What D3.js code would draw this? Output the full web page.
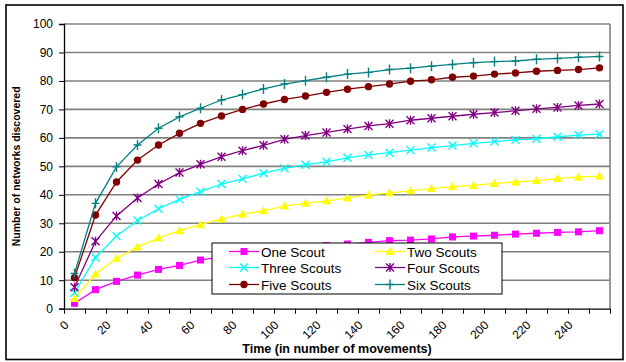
<!DOCTYPE html>
<html><head><meta charset="utf-8">
<script src="https://cdn.jsdelivr.net/npm/d3@7"></script>
<style>body{margin:0;background:#fff}svg{display:block}</style>
</head><body>
<svg id="c" width="626" height="362"></svg>
<script>
const times = [5,15,25,35,45,55,65,75,85,95,105,115,125,135,145,155,165,175,185,195,205,215,225,235,245,255];
const oneScout   = [1.9,6.7,9.6,11.8,13.8,15.2,17.1,18.3,19.3,20.2,21.0,21.7,22.2,22.7,23.3,23.9,24.1,24.5,25.2,25.5,25.8,26.2,26.5,26.8,27.0,27.4];
const twoScouts  = [3.6,12.2,17.6,21.7,24.8,27.4,29.5,31.5,33.2,34.4,36.1,37.0,37.9,38.9,39.9,40.7,41.4,42.2,42.9,43.3,44.0,44.5,45.0,45.7,46.3,46.6];
const threeScouts= [5.6,18.0,25.5,31.0,35.1,38.4,41.1,43.8,45.6,47.6,49.3,50.6,51.6,53.0,54.0,54.8,55.7,56.6,57.3,58.1,58.7,59.3,59.7,60.4,61.0,61.3];
const fourScouts = [7.5,23.7,32.6,38.9,43.8,47.8,50.7,53.4,55.5,57.4,59.5,60.8,61.9,63.1,64.2,65.0,66.2,66.9,67.6,68.3,68.9,69.5,70.2,70.7,71.4,71.9];
const fiveScouts = [10.9,32.9,44.5,52.2,57.5,61.6,65.1,67.7,70.0,71.9,73.5,74.7,76.0,77.1,78.0,78.9,79.9,80.4,81.3,81.7,82.4,82.8,83.4,83.7,84.0,84.6];
const sixScouts  = [12.4,37.0,49.8,57.5,63.4,67.4,70.4,73.3,75.2,77.2,78.9,80.1,81.3,82.4,83.0,84.0,84.5,85.2,85.8,86.4,86.8,87.0,87.6,87.9,88.3,88.6];
const seriesNames = ["One Scout","Two Scouts","Three Scouts","Four Scouts","Five Scouts","Six Scouts"];
const yTicks = [0,10,20,30,40,50,60,70,80,90,100];
const xTicks = d3.range(0,261,10);
const xLabels = [0,20,40,60,80,100,120,140,160,180,200,220,240];
const yTitle = "Number of networks discovered";
const xTitle = "Time (in number of movements)";

const allValues = [oneScout,twoScouts,threeScouts,fourScouts,fiveScouts,sixScouts];
const colors = ["#FF00FF","#FFFF00","#00FFFF","#800080","#800000","#008080"];
const markers = ["square","triangle","x","star","circle","plus"];
const FONT = "Arial, 'Liberation Sans', sans-serif";

const svg = d3.select("#c");
const L=64,R=610,T=24,B=308.7;
const x = d3.scaleLinear().domain([0,260]).range([L,R]);
const y = d3.scaleLinear().domain([0,100]).range([B,T]);

// outer border
svg.append("rect").attr("x",6).attr("y",5).attr("width",617).attr("height",354.5)
  .attr("fill","#fff").attr("stroke","#000").attr("stroke-width",1.6);

// gridlines
svg.append("g").selectAll("line").data(yTicks.filter(d=>d>0)).join("line")
  .attr("x1",L).attr("x2",R).attr("y1",d=>y(d)).attr("y2",d=>y(d))
  .attr("stroke","#808080").attr("stroke-width",1.6);
svg.append("line").attr("x1",R).attr("x2",R).attr("y1",T).attr("y2",B)
  .attr("stroke","#808080").attr("stroke-width",1.6);

// y axis
const yAxis = d3.axisLeft(y).tickValues(yTicks).tickSize(5).tickPadding(6);
const gy = svg.append("g").attr("transform",`translate(${L},0)`).call(yAxis);
gy.select(".domain").attr("stroke","#000").attr("stroke-width",1.3);
gy.selectAll(".tick line").attr("stroke","#000");
gy.selectAll("text").attr("font-family",FONT).attr("font-size",12).attr("fill","#000");

// x axis
const xAxis = d3.axisBottom(x).tickValues(xTicks).tickSize(5).tickSizeOuter(0)
  .tickFormat(d=>xLabels.includes(d)?d:"");
const gx = svg.append("g").attr("transform",`translate(0,${B})`).call(xAxis);
gx.select(".domain").attr("stroke","#000").attr("stroke-width",1.3);
gx.selectAll(".tick line").attr("stroke","#000");
gx.selectAll("text").attr("font-family",FONT).attr("font-size",12).attr("fill","#000")
  .attr("text-anchor","end").attr("dy",0).attr("y",0)
  .attr("transform","translate(5,17) rotate(-45)");

// titles
svg.append("text").attr("transform",`translate(20,${(T+B)/2}) rotate(-90)`)
  .attr("text-anchor","middle").attr("font-family",FONT)
  .attr("font-weight","bold").attr("font-size",10.5).text(yTitle);
svg.append("text").attr("x",337).attr("y",353).attr("text-anchor","middle")
  .attr("font-family",FONT)
  .attr("font-weight","bold").attr("font-size",12.5).text(xTitle);

function drawMarker(g,type,cx,cy,color){
  if(type==="square") g.append("rect").attr("x",cx-3.5).attr("y",cy-3.5).attr("width",7).attr("height",7).attr("fill",color);
  else if(type==="triangle") g.append("path").attr("d",`M${cx},${cy-4.5}L${cx+4.5},${cy+3.5}L${cx-4.5},${cy+3.5}Z`).attr("fill",color);
  else if(type==="circle") g.append("circle").attr("cx",cx).attr("cy",cy).attr("r",3.7).attr("fill",color);
  else {
    const p=[];
    if(type==="x"||type==="star"){p.push(`M${cx-4},${cy-4}L${cx+4},${cy+4}`,`M${cx-4},${cy+4}L${cx+4},${cy-4}`);}
    if(type==="star"){p.push(`M${cx},${cy-4.5}L${cx},${cy+4.5}`);}
    if(type==="plus"){p.push(`M${cx-4},${cy}L${cx+4},${cy}`,`M${cx},${cy-5}L${cx},${cy+5}`);}
    g.append("path").attr("d",p.join("")).attr("stroke",color).attr("stroke-width",1.4).attr("fill","none");
  }
}

const line = d3.line().x((d,i)=>x(times[i])).y(d=>y(d));
allValues.forEach((vals,k)=>{
  const g = svg.append("g");
  g.append("path").datum(vals).attr("d",line).attr("fill","none").attr("stroke",colors[k]).attr("stroke-width",1.3);
  vals.forEach((v,i)=>drawMarker(g,markers[k],x(times[i]),y(v),colors[k]));
});

// legend
const lg = svg.append("g");
lg.append("rect").attr("x",212).attr("y",243).attr("width",290).attr("height",51)
  .attr("fill","#fff").attr("stroke","#000").attr("stroke-width",1);
const rowsY=[251.5,267.5,284.5], colX=[229,375];
seriesNames.forEach((n,k)=>{
  const cx=colX[k%2], cy=rowsY[Math.floor(k/2)];
  lg.append("line").attr("x1",cx).attr("x2",cx+30).attr("y1",cy).attr("y2",cy).attr("stroke",colors[k]).attr("stroke-width",1.3);
  drawMarker(lg,markers[k],cx+15,cy,colors[k]);
  lg.append("text").attr("x",cx+32).attr("y",cy+5).attr("font-family",FONT)
    .attr("font-size",13.5).text(n);
});
</script>
</body></html>
